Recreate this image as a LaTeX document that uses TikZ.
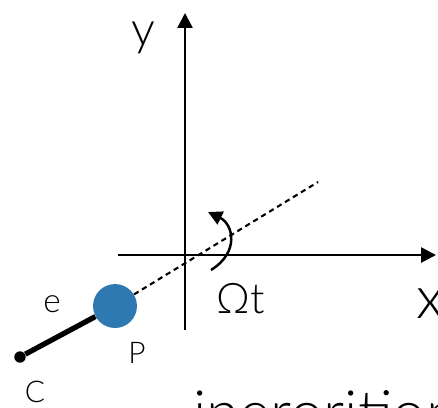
\documentclass[tikz,border=0pt]{standalone}
\usepackage{fontspec}
\setmainfont{Lato Light}
\usetikzlibrary{arrows.meta, positioning}

\definecolor{ballblue}{RGB}{46,121,178}

\begin{document}
\begin{tikzpicture}[x=0.02cm, y=-0.02cm,
   axis/.style={line width=1.5pt, -{Triangle[length=8.5pt, width=8.5pt]}},
   lbl/.style={inner sep=0pt, anchor=base},
   ball/.style={circle, fill=ballblue, minimum size=25pt, inner sep=0pt},
   pin/.style={circle, fill=black, minimum size=6.5pt, inner sep=0pt}]
  \useasboundingbox (0,0) rectangle (438,407);
  % axes
  \coordinate (xs) at (118,255); \coordinate (xe) at (436,255);
  \coordinate (ys) at (185,330); \coordinate (ye) at (185,13);
  \draw[axis] (xs) -- (xe);
  \draw[axis] (ys) -- (ye);
  % rod and ball
  \node[pin]  (C) at (20,357) {};
  \node[ball] (P) at (115,306) {};
  \draw[line width=3pt] (C) -- (P);
  \coordinate (dend) at (318,182);
  \draw[line width=1.2pt, dash pattern=on 3pt off 2.3pt] (P) -- (dend);
  % rotation arrow
  \coordinate (ws) at (211,270); \coordinate (we) at (208,212);
  \draw[line width=1.4pt, -{Triangle[length=8pt, width=8pt]}]
     (ws) .. controls (240,252) and (233,224) .. (we);
  % labels
  \node[lbl, font=\fontsize{27}{30}\selectfont] (ylab) at (143,45) {y};
  \node[lbl, anchor=base west, font=\fontsize{34}{40}\selectfont] (xlab) at (416,318) {x};
  \node[lbl, anchor=base west, font=\fontsize{24}{28}\selectfont] (wlab) at (216,313) {Ωt};
  \node[lbl, font=\fontsize{19}{22}\selectfont] (elab) at (52,312) {e};
  \node[lbl, font=\fontsize{17}{20}\selectfont] (plab) at (137,363) {P};
  \node[lbl, font=\fontsize{17}{20}\selectfont] (clab) at (35,402) {C};
  \node[lbl, anchor=base west, font=\fontsize{34}{40}\selectfont] (cut) at (193,433) {inerorition};
\end{tikzpicture}
\end{document}
